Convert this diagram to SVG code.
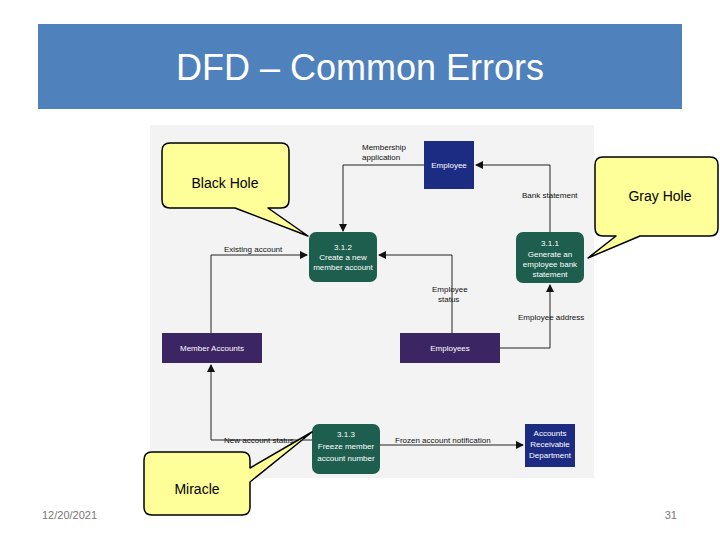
<svg xmlns="http://www.w3.org/2000/svg" width="720" height="540" viewBox="0 0 720 540">
<defs>
<marker id="ah" markerWidth="8" markerHeight="8" refX="7" refY="4" orient="auto" markerUnits="userSpaceOnUse"><path d="M0,0 L8,4 L0,8 z" fill="#111"/></marker>
<style>
.l{font-family:"Liberation Sans",Arial,sans-serif;font-size:8px;fill:#111}
.w{font-family:"Liberation Sans",Arial,sans-serif;font-size:8px;fill:#fff;text-anchor:middle}
.c{fill:none;stroke:#222;stroke-width:1;marker-end:url(#ah)}
.co{fill:#ffff99;stroke:#000;stroke-width:1.5;stroke-linejoin:round}
.ct{font-family:"Liberation Sans",Arial,sans-serif;font-size:14px;fill:#000;text-anchor:middle}
.proc{fill:#1d5e4e}
.store{fill:#3b2563}
.ent{fill:#1c2c82}
</style>
</defs>
<rect width="720" height="540" fill="#fff"/>
<g id="title"><rect x="38" y="24" width="644" height="85" fill="#4f81bd"/>
<text x="360" y="80" font-family="Liberation Sans,Arial,sans-serif" font-size="36" fill="#fff" text-anchor="middle">DFD – Common Errors</text></g>
<rect x="150" y="125" width="444" height="353" fill="#f3f3f3"/>
<g id="connectors">
<path class="c" d="M424,165 H343 V231"/>
<path class="c" d="M550,232 V165 H476"/>
<path class="c" d="M211,333 V255 H307"/>
<path class="c" d="M452,333 V255 H379"/>
<path class="c" d="M500,348 H550 V285"/>
<path class="c" d="M312,440 H211 V365"/>
<path class="c" d="M380,445 H523"/>
</g>
<g id="labels">
<text class="l" x="362" y="150">Membership</text><text class="l" x="362" y="160">application</text>
<text class="l" x="522" y="198">Bank statement</text>
<text class="l" x="224" y="252">Existing account</text>
<text class="l" x="432" y="292">Employee</text><text class="l" x="438" y="302">status</text>
<text class="l" x="518" y="320">Employee address</text>
<text class="l" x="224" y="443">New account status</text>
<text class="l" x="395" y="443">Frozen account notification</text>
</g>
<g id="employee"><rect class="ent" x="424" y="141" width="50" height="48"/><text class="w" x="449" y="168">Employee</text></g>
<g id="p312"><rect class="proc" x="309" y="232" width="68" height="50" rx="7"/><text class="w" x="343" y="250">3.1.2</text><text class="w" x="343" y="260">Create a new</text><text class="w" x="343" y="270">member account</text></g>
<g id="p311"><rect class="proc" x="516" y="232" width="68" height="51" rx="7"/><text class="w" x="550" y="246">3.1.1</text><text class="w" x="550" y="257">Generate an</text><text class="w" x="550" y="267">employee bank</text><text class="w" x="550" y="277">statement</text></g>
<g id="memberaccounts"><rect class="store" x="162" y="333" width="100" height="30"/><text class="w" x="212" y="351">Member Accounts</text></g>
<g id="employees"><rect class="store" x="400" y="333" width="100" height="30"/><text class="w" x="450" y="351">Employees</text></g>
<g id="p313"><rect class="proc" x="312" y="424" width="68" height="50" rx="7"/><text class="w" x="346" y="437">3.1.3</text><text class="w" x="346" y="449">Freeze member</text><text class="w" x="346" y="461">account number</text></g>
<g id="ar"><rect class="ent" x="525" y="424" width="50" height="43"/><text class="w" x="550" y="436">Accounts</text><text class="w" x="550" y="447">Receivable</text><text class="w" x="550" y="458">Department</text></g>
<g id="blackhole"><path class="co" d="M170,143 H281 Q289,143 289,151 V200 Q289,208 281,208 H268 L308,236 L235,208 H170 Q162,208 162,200 V151 Q162,143 170,143 Z"/><text class="ct" x="225" y="188">Black Hole</text></g>
<g id="grayhole"><path class="co" d="M603,157 H710 Q718,157 718,165 V228 Q718,236 710,236 H640 L588,258 L616,236 H603 Q595,236 595,228 V165 Q595,157 603,157 Z"/><text class="ct" x="660" y="201">Gray Hole</text></g>
<g id="miracle"><path class="co" d="M152,452 H242 Q250,452 250,460 V468 L312,432 L250,482 V507 Q250,515 242,515 H152 Q144,515 144,507 V460 Q144,452 152,452 Z"/><text class="ct" x="197" y="494">Miracle</text></g>
<text x="42" y="519" font-family="Liberation Sans,Arial,sans-serif" font-size="11" fill="#777">12/20/2021</text>
<text x="677" y="519" font-family="Liberation Sans,Arial,sans-serif" font-size="11" fill="#777" text-anchor="end">31</text>
</svg>
